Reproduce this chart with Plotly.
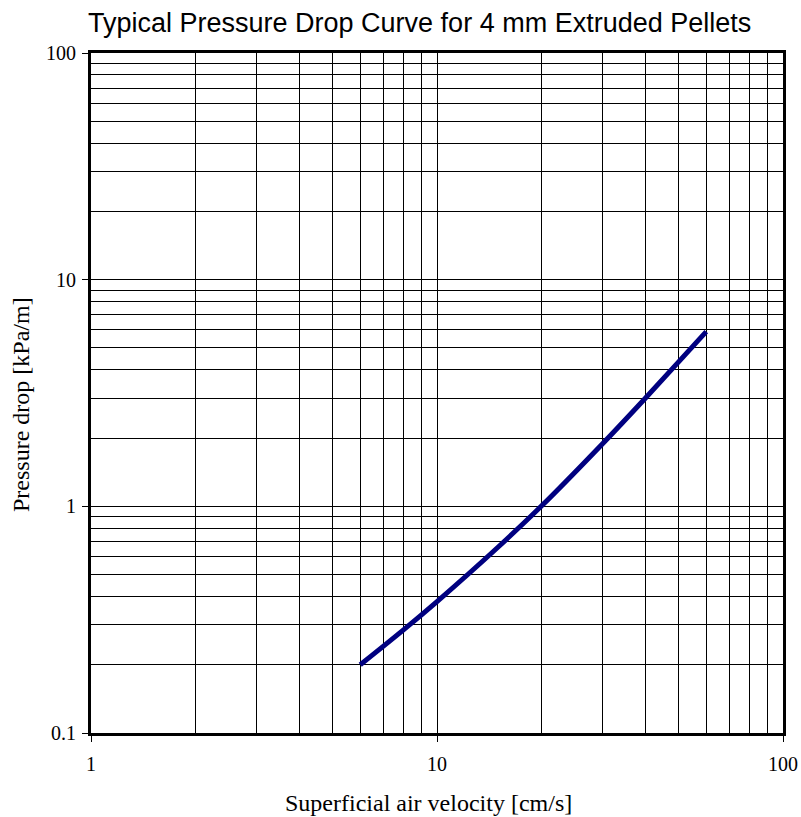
import plotly.graph_objects as go

velocity = [6, 8, 10, 15, 20, 30, 40, 50, 60]          # cm/s
pressure = [0.2, 0.285, 0.38, 0.66, 1.0, 1.88, 3.0, 4.35, 5.9]  # kPa/m

x_major = [1, 10, 100]
x_minor = [2, 3, 4, 5, 6, 7, 8, 9, 20, 30, 40, 50, 60, 70, 80, 90]
y_major = [0.1, 1, 10, 100]
y_minor = [0.2, 0.3, 0.4, 0.5, 0.6, 0.7, 0.8, 0.9,
           2, 3, 4, 5, 6, 7, 8, 9, 20, 30, 40, 50, 60, 70, 80, 90]

fig = go.Figure()
fig.add_trace(go.Scatter(x=velocity, y=pressure, mode="lines",
                         line=dict(color="#000080", width=5, shape="spline"),
                         showlegend=False, hoverinfo="skip"))

serif = "Liberation Serif, Times New Roman, serif"
common = dict(type="log", showline=True, linewidth=3, linecolor="black", mirror=True,
              showgrid=True, gridcolor="black", gridwidth=1,
              ticks="outside", ticklen=6, tickwidth=1, tickcolor="black",
              tickfont=dict(family=serif, size=20, color="black"),
              zeroline=False, automargin=False)

fig.update_xaxes(**common, range=[0, 2], tickvals=x_major, ticktext=["1", "10", "100"],
                 ticklabelstandoff=5,
                 minor=dict(tickvals=x_minor, showgrid=True, gridcolor="black", gridwidth=1, ticks=""))
fig.update_yaxes(**common, range=[-1, 2], tickvals=y_major, ticktext=["0.1", "1", "10", "100"],
                 ticklabelstandoff=2,
                 minor=dict(tickvals=y_minor, showgrid=True, gridcolor="black", gridwidth=1, ticks=""))

fig.add_annotation(text="Superficial air velocity [cm/s]", xref="paper", yref="paper",
                   x=(428 - 91) / 692, y=(733 - 803) / 680, xanchor="center", yanchor="middle",
                   showarrow=False, font=dict(family=serif, size=24, color="black"))
fig.add_annotation(text="Pressure drop [kPa/m]", xref="paper", yref="paper",
                   x=(21 - 91) / 692, y=(733 - 405) / 680, xanchor="center", yanchor="middle",
                   textangle=-90, showarrow=False, font=dict(family=serif, size=24, color="black"))

fig.update_layout(
    width=801, height=817,
    margin=dict(l=91, r=18, t=53, b=84),
    paper_bgcolor="white", plot_bgcolor="white",
    title=dict(text="Typical Pressure Drop Curve for 4 mm Extruded Pellets",
               font=dict(family="Liberation Sans, Arial, sans-serif", size=27, color="black"),
               x=88 / 801, xref="container", xanchor="left",
               y=1 - 23 / 817, yref="container", yanchor="middle"),
)

fig.write_html("out.html", config={"displayModeBar": False},
               post_script="document.body.style.margin='0';document.body.style.padding='0';")
